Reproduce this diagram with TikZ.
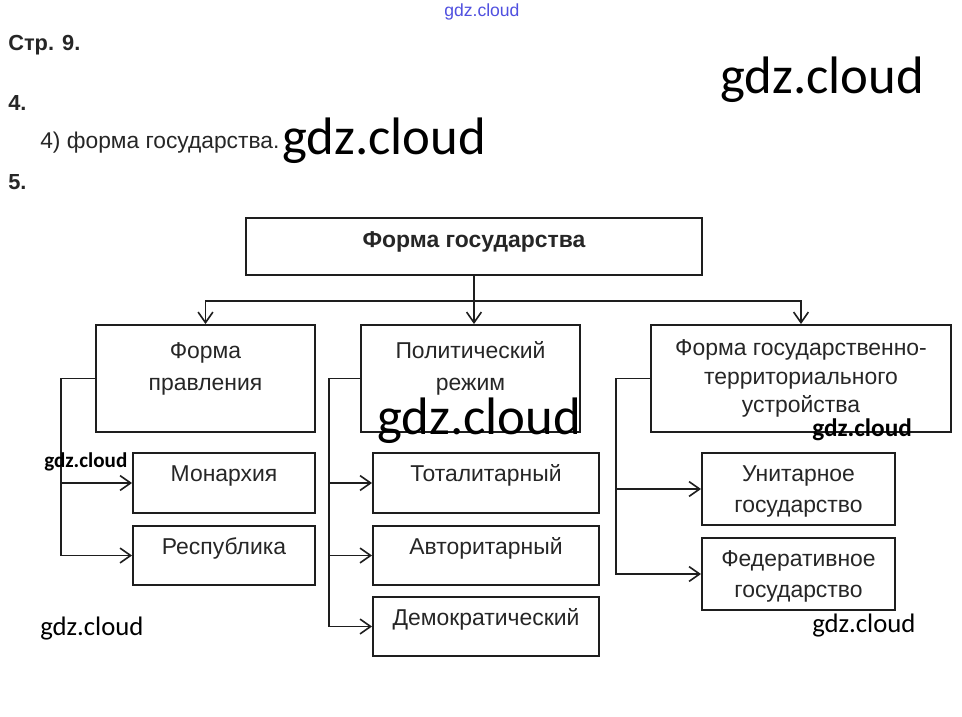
\documentclass[tikz,border=0pt]{standalone}
\usepackage{fontspec}
\setmainfont{Liberation Sans}
\newfontfamily\wmfont{Carlito}
\usetikzlibrary{arrows.meta,positioning}
\definecolor{BoxLine}{HTML}{1E1E1E}
\definecolor{BoxText}{HTML}{262626}
\definecolor{GdzBlue}{HTML}{5050E0}

\begin{document}
\begin{tikzpicture}[
    x=0.025cm,y=-0.025cm,
    box/.style={draw=BoxLine,line width=1.35pt,align=center,inner sep=2pt,text=BoxText,font=\fontsize{16.3}{22}\selectfont},
    leaf/.style={box,minimum height=1.5cm,text height=10pt,text depth=12pt},
    arr/.style={-{Straight Barb[length=7.5pt,width=10.5pt]},line width=1.15pt,BoxLine},
    head/.style={anchor=base west,inner sep=0pt,text=BoxText,font=\fontsize{15.5}{18}\selectfont\bfseries},
    gdz/.style={anchor=base west,inner sep=0pt,font=\wmfont\fontsize{37.5}{40}\selectfont}
  ]
    \useasboundingbox[fill=white] (0,0) rectangle (962,717);

    \node[head] (page) at (8,50) {Стр. 9.};
    \node[head] (q4) at (8,110) {4.};
    \node[head,font=\fontsize{16.2}{18}\selectfont] (ans) at (40,148) {4) форма государства.};
    \node[head] (q5) at (8,189) {5.};

    \node[box,minimum width=11.4cm,minimum height=1.425cm,text height=10pt,text depth=9pt,font=\fontsize{16.3}{17}\selectfont\bfseries] (fg) at (474,246.5) {Форма государства};
    \node[box,minimum width=5.475cm,minimum height=2.675cm] (fp) at (205.5,378.5) {};
    \node[box,minimum width=5.475cm,minimum height=2.675cm] (pr) at (470.5,378.5) {};
    \node[align=center,text=BoxText,font=\fontsize{16.3}{22.7}\selectfont] (fp-txt) at ([yshift=6.5pt]fp.center) {Форма\\правления};
    \node[align=center,text=BoxText,font=\fontsize{16.3}{22.7}\selectfont] (pr-txt) at ([yshift=7.5pt]pr.center) {Политический\\режим};
    \node[box,minimum width=7.5cm,minimum height=2.675cm,font=\fontsize{16.3}{20.5}\selectfont] (fu) at (801,378.5) {Форма государственно-\\территориального\\устройства};

    \node[leaf,minimum width=4.55cm] (mon) at (224,483) {Монархия};
    \node[leaf,minimum width=4.55cm,minimum height=1.475cm] (rep) at (224,555.5) {Республика};
    \node[leaf,minimum width=5.65cm] (tot) at (486,483) {Тоталитарный};
    \node[leaf,minimum width=5.65cm,minimum height=1.475cm] (avt) at (486,555.5) {Авторитарный};
    \node[leaf,minimum width=5.65cm,minimum height=1.475cm] (dem) at (486,626.5) {Демократический};
    \node[box,minimum width=4.825cm,minimum height=1.8cm] (uni) at (798.5,489) {};
    \node[box,minimum width=4.825cm,minimum height=1.8cm] (fed) at (798.5,574) {};
    \node[align=center,text=BoxText,font=\fontsize{16.3}{22}\selectfont] (uni-txt) at ([yshift=-1.5pt]uni.center) {Унитарное\\государство};
    \node[align=center,text=BoxText,font=\fontsize{16.3}{22}\selectfont] (fed-txt) at ([yshift=-1.5pt]fed.center) {Федеративное\\государство};

    \draw[line width=1.15pt,BoxLine] (fg.south) -- ++(0,25) coordinate (hub);
    \draw[arr] (hub) -| (fp.north);
    \draw[arr] (hub) -- (hub |- pr.north);
    \draw[arr] (hub) -| (fu.north);

    \draw[arr] (fp.west) -- ++(-34,0) |- (mon.west);
    \draw[arr] (fp.west) -- ++(-34,0) |- (rep.west);
    \draw[arr] (pr.west) -- ++(-31,0) |- (tot.west);
    \draw[arr] (pr.west) -- ++(-31,0) |- (avt.west);
    \draw[arr] (pr.west) -- ++(-31,0) |- (dem.west);
    \draw[arr] (fu.west) -- ++(-34,0) |- (uni.west);
    \draw[arr] (fu.west) -- ++(-34,0) |- (fed.west);

    \node[gdz,text=GdzBlue,font=\fontsize{12.5}{14}\selectfont] (wm0) at (444,16) {gdz.cloud};
    \node[gdz] (wm1) at (720,93) {gdz.cloud};
    \node[gdz] (wm2) at (282,154) {gdz.cloud};
    \node[gdz] (wm3) at (377,434) {gdz.cloud};
    \node[gdz,font=\wmfont\bfseries\fontsize{15}{18}\selectfont] (wm4) at (44,467) {gdz.cloud};
    \node[gdz,font=\wmfont\fontsize{19}{22}\selectfont] (wm5) at (40,635) {gdz.cloud};
    \node[gdz,font=\wmfont\bfseries\fontsize{18}{22}\selectfont] (wm6) at (812,436) {gdz.cloud};
    \node[gdz,font=\wmfont\fontsize{19}{22}\selectfont] (wm7) at (812,632) {gdz.cloud};
\end{tikzpicture}
\end{document}
